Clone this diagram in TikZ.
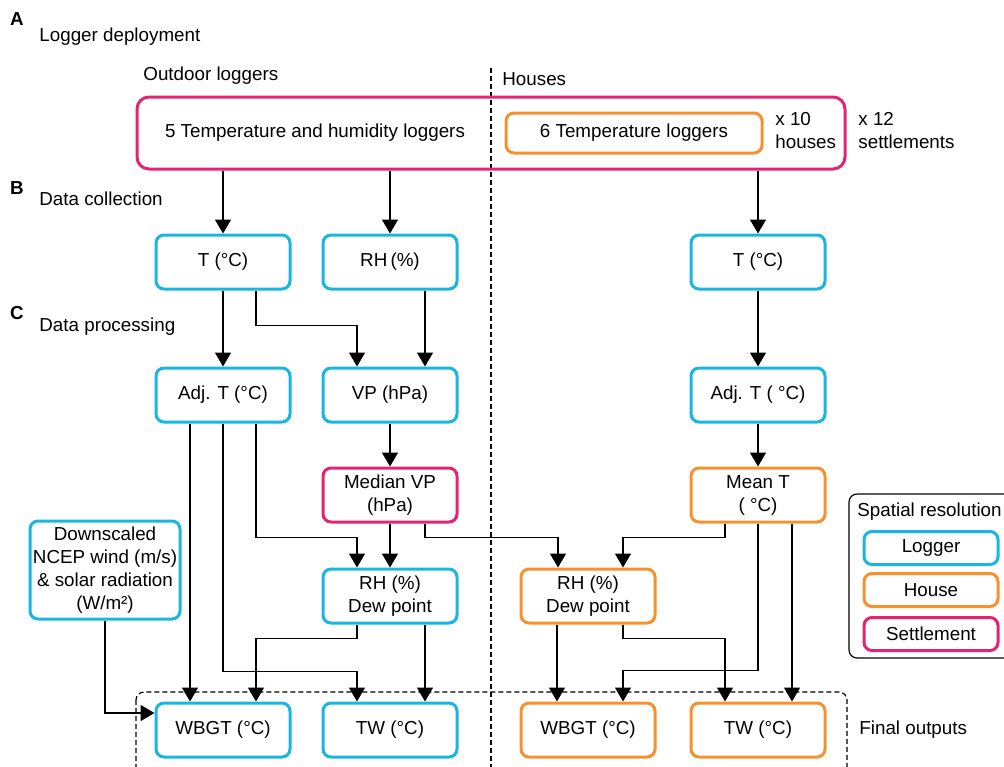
\documentclass[tikz,border=0pt]{standalone}
\usepackage{fontspec}
\setmainfont{Liberation Sans}
\usepackage{xcolor}
\usetikzlibrary{arrows.meta,calc}
\definecolor{loggerblue}{RGB}{24,182,226}
\definecolor{houseorange}{RGB}{247,144,45}
\definecolor{settlepink}{RGB}{229,35,115}

\begin{document}
\begin{tikzpicture}[x=0.5pt,y=-0.5pt,
  font=\fontsize{9.4}{11.5}\selectfont,
  box/.style={draw, line width=1.5pt, rounded corners=4pt, minimum width=67pt, minimum height=27pt, align=center, inner sep=1pt},
  logger/.style={box, draw=loggerblue},
  house/.style={box, draw=houseorange},
  settle/.style={box, draw=settlepink},
  arr/.style={-{Triangle[width=8pt,length=7pt]}, line width=0.75pt},
  label/.style={anchor=west, inner sep=0pt},
  panel/.style={anchor=center, inner sep=0pt, font=\fontsize{9.4}{10}\selectfont\bfseries},
  dashline/.style={line width=0.6pt, dash pattern=on 2.5pt off 1.5pt}]
\useasboundingbox (0,0) rectangle (1004,766);

% panel titles
\node[panel] (pA) at (17,19) {A};
\node[label] (tA) at (39,37) {Logger deployment};
\node[panel] (pB) at (17,188) {B};
\node[label] (tB) at (39,199) {Data collection};
\node[panel] (pC) at (17,313) {C};
\node[label] (tC) at (39,327) {Data processing};

\node[label] (outdoor) at (143,76) {Outdoor loggers};
\node[label] (houses) at (502,79) {Houses};
\draw[dashline] (491,68) -- (491,768);

% A
\node[settle, minimum width=354pt, minimum height=36pt, rounded corners=6pt] (settle) at (491,133) {};
\node (thlog) at (315,133) {5 Temperature and humidity loggers};
\node[house, minimum width=128pt, minimum height=20pt] (tlog) at (634,133) {6 Temperature loggers};
\node[label, align=left] (x10) at (775,131) {x 10\\houses};
\node[label, align=left] (x12) at (858,131) {x 12\\settlements};

% B
\node[logger] (tOut) at (223,262) {T (°C)};
\node[logger] (rhOut) at (390,262) {RH\,(\%)};
\node[logger] (tIn) at (758,262) {T (°C)};

% C
\node[logger] (adjOut) at (223,395) {Adj. T (°C)};
\node[logger] (vp) at (390,395) {VP (hPa)};
\node[logger] (adjIn) at (758,395) {Adj. T ( °C)};
\node[settle] (medvp) at (390,495) {Median VP\\(hPa)};
\node[house] (meanT) at (758,495) {Mean T\\( °C)};
\node[logger, minimum width=75pt, minimum height=49pt] (ncep) at (105,570) {Downscaled\\NCEP wind (m/s)\\\& solar radiation\\(W/m²)};
\node[logger] (rhdOut) at (390,596) {RH (\%)\\Dew point};
\node[house] (rhdIn) at (588,596) {RH (\%)\\Dew point};

% final outputs
\draw[dashline, rounded corners=4pt] (136,692) rectangle (847,790);
\node[logger] (wbOut) at (223,730) {WBGT (°C)};
\node[logger] (twOut) at (390,730) {TW (°C)};
\node[house] (wbIn) at (588,730) {WBGT (°C)};
\node[house] (twIn) at (758,730) {TW (°C)};
\node[label] (final) at (859,730) {Final outputs};

% legend
\draw[line width=0.6pt, rounded corners=4pt] (849,494) rectangle (1012,658);
\node[label] (legtitle) at (857,512) {Spatial resolution};
\node[logger, minimum height=16.5pt] (legLog) at (931,548) {Logger};
\node[house, minimum height=16.5pt] (legHouse) at (931,590) {House};
\node[settle, minimum height=16.5pt] (legSettle) at (931,634) {Settlement};

% arrows
\draw[arr] (settle.south -| tOut.north) -- (tOut.north);
\draw[arr] (settle.south -| rhOut.north) -- (rhOut.north);
\draw[arr] (settle.south -| tIn.north) -- (tIn.north);
\draw[arr] (tOut.south) -- (adjOut.north);
\draw[arr] ($(tOut.south)+(33,0)$) -- ++(0,35) -| ($(vp.north)+(-33,0)$);
\draw[arr] ($(rhOut.south)+(35,0)$) -- ($(vp.north)+(35,0)$);
\draw[arr] (tIn.south) -- (adjIn.north);
\draw[arr] (vp.south) -- (medvp.north);
\draw[arr] (adjIn.south) -- (meanT.north);

\draw[arr] ($(adjOut.south)+(-33,0)$) -- ($(wbOut.north)+(-33,0)$);
\draw[arr] (adjOut.south) -- ++(0,248) -| ($(twOut.north)+(-33,0)$);
\draw[arr] ($(adjOut.south)+(33,0)$) -- ++(0,114) -| ($(rhdOut.north)+(-33,0)$);
\draw[arr] (medvp.south) -- (rhdOut.north);
\draw[arr] ($(medvp.south)+(35,0)$) -- ++(0,14) -| ($(rhdIn.north)+(-30,0)$);
\draw[arr] ($(meanT.south)+(-33,0)$) -- ++(0,14) -| ($(rhdIn.north)+(35,0)$);
\draw[arr] (meanT.south) -- ++(0,147) -| ($(wbIn.north)+(35,0)$);
\draw[arr] ($(meanT.south)+(34,0)$) -- ($(twIn.north)+(34,0)$);
\draw[arr] ($(rhdIn.south)+(-31,0)$) -- ($(wbIn.north)+(-31,0)$);
\draw[arr] ($(rhdIn.south)+(35,0)$) -- ++(0,14) -| ($(twIn.north)+(-33,0)$);
\draw[arr] ($(rhdOut.south)+(-33,0)$) -- ++(0,14) -| ($(wbOut.north)+(33,0)$);
\draw[arr] ($(rhdOut.south)+(35,0)$) -- ($(twOut.north)+(35,0)$);
\draw[arr] (ncep.south) |- ($(wbOut.west)+(0,-17)$);
\end{tikzpicture}
\end{document}
